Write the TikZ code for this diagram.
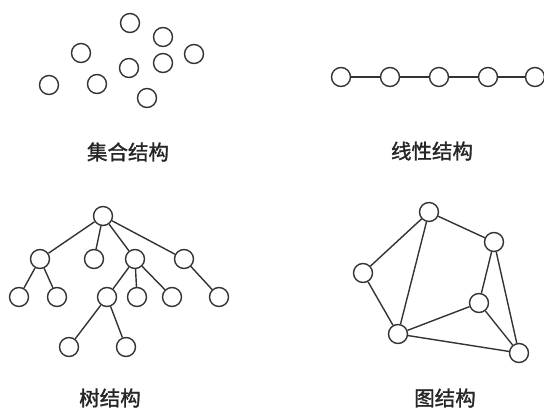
\documentclass[tikz,border=0pt]{standalone}
\usepackage{fontspec}
\newfontfamily\cjk[FakeBold=1.5]{Noto Sans CJK SC}
\begin{document}
\begin{tikzpicture}[x=1pt,y=-1pt,
  vtx/.style={circle,draw=black!80,line width=1.4pt,minimum size=19pt,inner sep=0pt,fill=white},
  edge/.style={draw=black!80,line width=1.4pt},
  captext/.style={font=\cjk\fontsize{20.5}{20.5}\selectfont,text=black!85,inner sep=0pt}]
\useasboundingbox[fill=white] (0,0) rectangle (544,410);
% set structure
\node[vtx] (s1) at (130,23) {};
\node[vtx] (s2) at (163,37) {};
\node[vtx] (s3) at (81,53) {};
\node[vtx] (s4) at (194,54) {};
\node[vtx] (s5) at (129,68) {};
\node[vtx] (s6) at (163,63) {};
\node[vtx] (s7) at (49,85) {};
\node[vtx] (s8) at (97,84) {};
\node[vtx] (s9) at (147,98) {};
\node[captext] (c1) at (128,152) {集合结构};
% linear structure
\node[vtx] (l1) at (341,77) {};
\node[vtx] (l2) at (390,77) {};
\node[vtx] (l3) at (439,77) {};
\node[vtx] (l4) at (488,77) {};
\node[vtx] (l5) at (535,77) {};
\draw[edge] (l1) -- (l2) (l2) -- (l3) (l3) -- (l4) (l4) -- (l5);
\node[captext] (c2) at (432,151) {线性结构};
% tree structure
\node[vtx] (t0) at (103,216) {};
\node[vtx] (t1) at (40,259) {};
\node[vtx] (t2) at (94,259) {};
\node[vtx] (t3) at (135,259) {};
\node[vtx] (t4) at (184,259) {};
\node[vtx] (t11) at (19,297) {};
\node[vtx] (t12) at (57,297) {};
\node[vtx] (t31) at (107,297) {};
\node[vtx] (t32) at (137,297) {};
\node[vtx] (t33) at (172,297) {};
\node[vtx] (t41) at (219,297) {};
\node[vtx] (t311) at (69,347) {};
\node[vtx] (t312) at (126,347) {};
\draw[edge] (t0) -- (t1) (t0) -- (t2) (t0) -- (t3) (t0) -- (t4)
  (t1) -- (t11) (t1) -- (t12)
  (t3) -- (t31) (t3) -- (t32) (t3) -- (t33)
  (t4) -- (t41)
  (t31) -- (t311) (t31) -- (t312);
\node[captext] (c3) at (110,398) {树结构};
% graph structure
\node[vtx] (ga) at (429,212) {};
\node[vtx] (gb) at (494,242) {};
\node[vtx] (gc) at (363,273) {};
\node[vtx] (gd) at (479,303) {};
\node[vtx] (ge) at (398,334) {};
\node[vtx] (gf) at (519,353) {};
\draw[edge] (ga) -- (gb) (ga) -- (gc) (ga) -- (ge) (gc) -- (ge)
  (gb) -- (gd) (gb) -- (gf) (gd) -- (ge) (gd) -- (gf) (ge) -- (gf);
\node[captext] (c4) at (445,398) {图结构};
\end{tikzpicture}
\end{document}
